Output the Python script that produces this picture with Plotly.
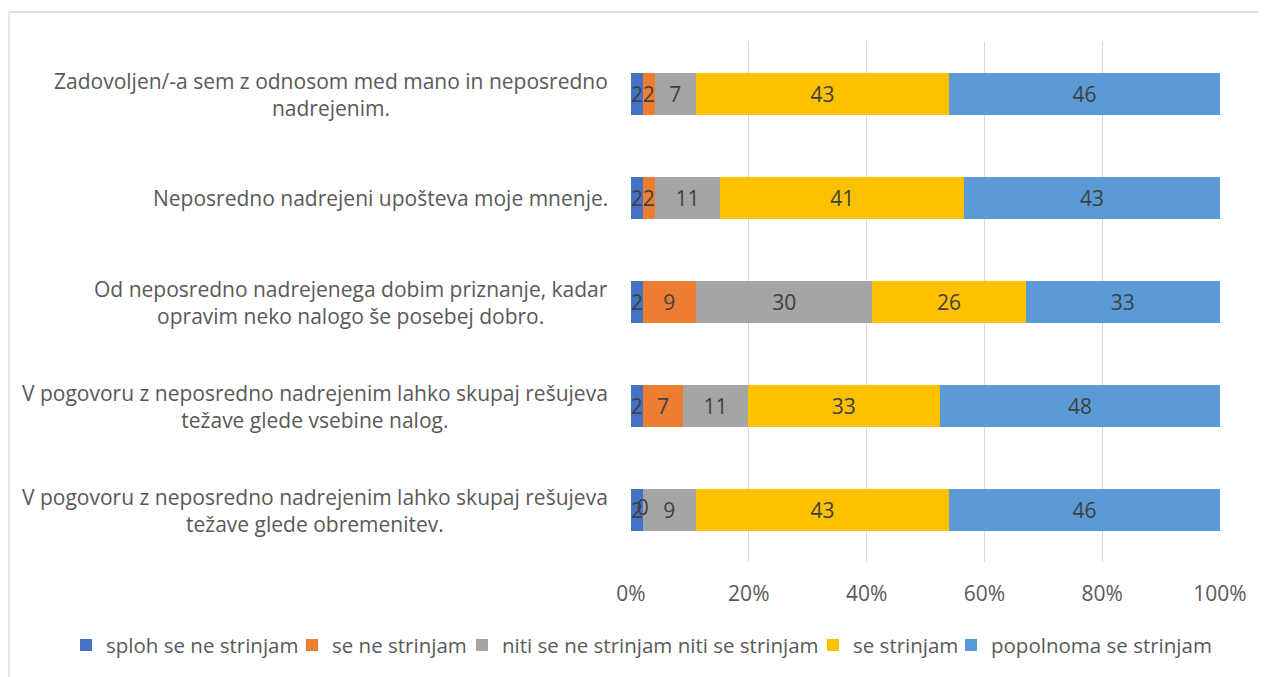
import plotly.graph_objects as go

categories = [
    "Zadovoljen/-a sem z odnosom med mano in neposredno<br>nadrejenim.",
    "Neposredno nadrejeni upošteva moje mnenje.",
    "Od neposredno nadrejenega dobim priznanje, kadar<br>opravim neko nalogo še posebej dobro.",
    "V pogovoru z neposredno nadrejenim lahko skupaj rešujeva<br>težave glede vsebine nalog.",
    "V pogovoru z neposredno nadrejenim lahko skupaj rešujeva<br>težave glede obremenitev.",
]
series_names = [
    "sploh se ne strinjam",
    "se ne strinjam",
    "niti se ne strinjam niti se strinjam",
    "se strinjam",
    "popolnoma se strinjam",
]
sploh_ne = [2, 2, 2, 2, 2]
ne = [2, 2, 9, 7, 0]
niti = [7, 11, 30, 11, 9]
se_strinjam = [43, 41, 26, 33, 43]
popolnoma = [46, 43, 33, 48, 46]
series_values = [sploh_ne, ne, niti, se_strinjam, popolnoma]
colors = ["#4472C4", "#ED7D31", "#A5A5A5", "#FFC000", "#5B9BD5"]
x_ticks = [0, 20, 40, 60, 80, 100]
x_ticklabels = ["0%", "20%", "40%", "60%", "80%", "100%"]

FONT = "Open Sans"
FS = 21
LEG_FS = 20.5

# page has an 8px body margin; figure sized to fit the 1266x677 window
W, H = 1258, 669
L, R, T, B = 623, 46, 34, 115
PLOT_W = W - L - R

# legend text start positions (px, window coords) for each entry
legend_text_px = [106, 332, 502, 853, 991]
legend_x = [(px - 40 - (L + 8)) / PLOT_W for px in legend_text_px]

fig = go.Figure()
for k, (name, vals, col) in enumerate(zip(series_names, series_values, colors)):
    fig.add_trace(go.Bar(
        name=name, y=categories, x=vals, orientation="h",
        marker=dict(color=col, line=dict(width=0)),
        text=[str(v) for v in vals], textposition="inside",
        insidetextanchor="middle", textangle=0, constraintext="none",
        textfont=dict(family=FONT, size=FS, color="#404040"),
        hoverinfo="skip",
        legend="legend" if k == 0 else f"legend{k + 1}",
    ))

# labels for zero-width segments (bars of zero width draw no text)
totals = [sum(s[i] for s in series_values) for i in range(len(categories))]
zx, zy, zt = [], [], []
for i, cat in enumerate(categories):
    cum = 0
    for s in series_values:
        if s[i] == 0:
            zx.append(cum / totals[i] * 100)
            zy.append(cat)
            zt.append("0")
        cum += s[i]
fig.add_trace(go.Scatter(
    x=zx, y=zy, text=zt, mode="text", showlegend=False, hoverinfo="skip",
    textposition="middle center",
    textfont=dict(family=FONT, size=FS, color="#404040"),
))

legends = {}
for k, lx in enumerate(legend_x):
    key = "legend" if k == 0 else f"legend{k + 1}"
    legends[key] = dict(
        orientation="h", x=lx, xanchor="left", xref="paper",
        y=-0.16, yanchor="middle", yref="paper",
        font=dict(family=FONT, size=LEG_FS, color="#595959"),
        itemwidth=30, bgcolor="rgba(0,0,0,0)",
    )

fig.update_layout(
    barmode="stack", barnorm="percent", bargap=0.6,
    width=W, height=H,
    margin=dict(l=L, r=R, t=T, b=B, autoexpand=False),
    paper_bgcolor="white", plot_bgcolor="white",
    font=dict(family=FONT, size=FS, color="#595959"),
    showlegend=True,
    xaxis=dict(range=[0, 100], tickvals=x_ticks, ticktext=x_ticklabels,
               showgrid=True, gridcolor="#D9D9D9", gridwidth=1.3,
               zeroline=False, showline=False, ticks="",
               tickfont=dict(family=FONT, size=FS, color="#595959"),
               ticklabelstandoff=17, fixedrange=True, automargin=False),
    yaxis=dict(autorange="reversed", showticklabels=False, showgrid=False,
               zeroline=False, showline=False, ticks="", fixedrange=True,
               automargin=False),
    shapes=[
        dict(type="line", xref="paper", yref="paper", x0=-1.056, x1=1.1,
             y0=1.0577, y1=1.0577, line=dict(color="#D9D9D9", width=1.3)),
        dict(type="line", xref="paper", yref="paper", x0=-1.056, x1=-1.056,
             y0=1.0577, y1=-0.3, line=dict(color="#D9D9D9", width=1.3)),
    ],
    **legends,
)

for cat in categories:
    fig.add_annotation(
        x=0, xref="paper", y=cat, yref="y", xanchor="right", yanchor="middle",
        xshift=-21, text=cat, showarrow=False, align="center",
        font=dict(family=FONT, size=FS, color="#595959"),
    )

fig.write_html("out.html")
